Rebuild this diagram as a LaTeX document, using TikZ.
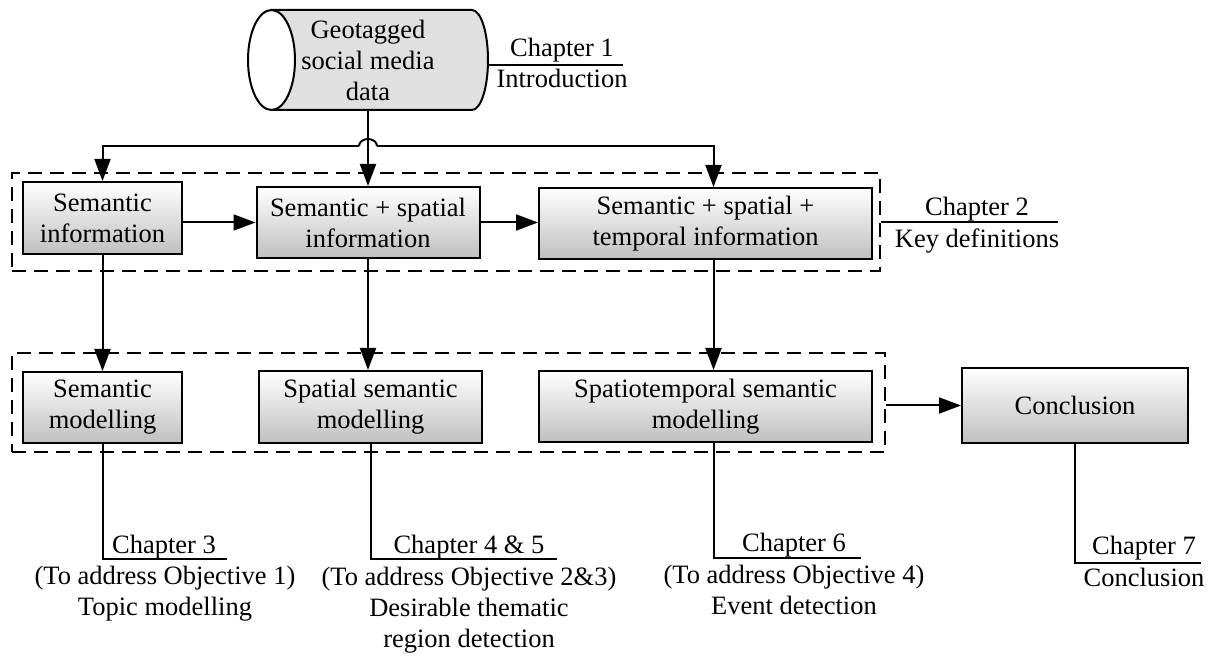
\documentclass[tikz,border=0pt]{standalone}
\usepackage{fontspec}
\setmainfont{Liberation Serif}
\usetikzlibrary{arrows.meta,fit,calc}

\begin{document}
\begin{tikzpicture}[x=0.5pt, y=0.5pt,
    font=\fontsize{13.25pt}{15.5pt}\selectfont,
    box/.style={draw, line width=1pt, align=center, top color=white,
      bottom color=black!25, inner sep=2pt},
    grp/.style={draw, line width=0.9pt, dash pattern=on 7pt off 4pt, inner sep=0pt},
    arr/.style={-{Triangle[length=11pt,width=8pt]}, line width=1pt},
    wire/.style={line width=1pt},
    lbl/.style={anchor=base, align=center, inner sep=0pt},
  ]
  \useasboundingbox (0,0) rectangle (1216,-662);
  % groups
  \node[grp, fit={(12,-173) (880,-271)}] (grp1) {};
  \node[grp, fit={(12,-353) (885,-452)}] (grp2) {};
  % data source
  \filldraw[wire, fill=black!12] (271.5,-10) -- (472,-10)
    arc[start angle=90, end angle=-90, x radius=8pt, y radius=25pt] -- (271.5,-110) -- cycle;
  \filldraw[wire, fill=white] (271.5,-60) ellipse[x radius=11.75pt, y radius=25pt];
  \node[align=center, minimum width=120pt, minimum height=50pt, inner sep=0pt] (data)
    at (368,-60) {Geotagged\\social media\\data};
  % boxes
  \node[box, minimum width=79.5pt, minimum height=36pt] (sinfo) at (102.5,-218) {Semantic\\information};
  \node[box, minimum width=111.5pt, minimum height=35.5pt] (ssinfo) at (368,-222.5) {Semantic + spatial\\information};
  \node[box, minimum width=166.5pt, minimum height=35.5pt] (sstinfo) at (705.5,-223.5) {Semantic + spatial +\\temporal information};
  \node[box, minimum width=79.5pt, minimum height=35.5pt] (smod) at (102.5,-407.5) {Semantic\\modelling};
  \node[box, minimum width=111.5pt, minimum height=36pt] (spmod) at (370.5,-407) {Spatial semantic\\modelling};
  \node[box, minimum width=166.5pt, minimum height=35.5pt] (stmod) at (705.5,-406.5) {Spatiotemporal semantic\\modelling};
  \node[box, minimum width=113pt, minimum height=37.5pt] (concl) at (1075,-405.5) {Conclusion};
  % connectors
  \coordinate (split) at (368,-146);
  \draw[arr] (data.south) -- (ssinfo.north);
  \draw[arr] ([xshift=-4.5pt]split) -| (sinfo.north);
  \draw[arr] ([xshift=4.5pt]split) -| ([xshift=4pt]sstinfo.north);
  \draw[wire] ([xshift=-4.5pt]split) arc[start angle=180, end angle=0, x radius=4.5pt, y radius=3.5pt];
  \draw[arr] (sinfo.east |- ssinfo.west) -- (ssinfo.west);
  \draw[arr] (ssinfo.east) -- (ssinfo.east -| sstinfo.west);
  \draw[arr] (sinfo.south) -- (smod.north);
  \draw[arr] (ssinfo.south) -- (ssinfo.south |- spmod.north);
  \draw[arr] ([xshift=4pt]sstinfo.south) -- ([xshift=4pt]sstinfo.south |- stmod.north);
  \draw[arr] (grp2.east |- concl.west) -- (concl.west);
  % chapter labels (base = last line)
  \draw[wire] ([yshift=-2.5pt]data.east) -- (623,-65);
  \node[lbl] (ch1) at (562,-57) {Chapter 1};
  \node[lbl] (ch1d) at (562,-88) {Introduction};
  \draw[wire] (grp1.east) -- (1058,-222);
  \node[lbl] (ch2) at (977,-216) {Chapter 2};
  \node[lbl] (ch2d) at (977,-248) {Key definitions};
  \draw[wire] (smod.south) |- (227,-559);
  \node[lbl] (ch3) at (164,-553) {Chapter 3};
  \node[lbl] (ch3d) at (165,-615) {(To address Objective 1)\\Topic modelling};
  \draw[wire] (spmod.south) |- (557,-559);
  \node[lbl] (ch4) at (469,-553) {Chapter 4 \& 5};
  \node[lbl] (ch4d) at (469,-647) {(To address Objective 2\&3)\\Desirable thematic\\region detection};
  \draw[wire] ([xshift=4pt]stmod.south) |- (861,-558);
  \node[lbl] (ch6) at (794,-552) {Chapter 6};
  \node[lbl] (ch6d) at (794,-614) {(To address Objective 4)\\Event detection};
  \draw[wire] (concl.south) |- (1201,-563);
  \node[lbl] (ch7) at (1144,-554) {Chapter 7};
  \node[lbl] (ch7d) at (1144,-587) {Conclusion};
\end{tikzpicture}
\end{document}
